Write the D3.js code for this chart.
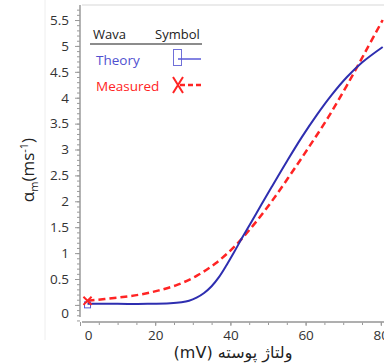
<!DOCTYPE html>
<html>
<head>
<meta charset="utf-8">
<script src="https://cdn.jsdelivr.net/npm/d3@7"></script>
<style>
  body { margin: 0; background: #fff; }
  text { font-family: "Open Sans", "DejaVu Sans", sans-serif; }
</style>
</head>
<body>
<svg id="chart" width="384" height="363"></svg>
<script>
// theory curve (blue)
const theoryX = [2, 10, 18, 24, 27, 29, 31, 33, 35, 37, 39, 41, 43, 47, 51, 55, 59, 63, 67, 71, 75, 80.5];
const theoryY = [0.02, 0.02, 0.02, 0.03, 0.05, 0.08, 0.14, 0.23, 0.36, 0.54, 0.77, 1.02, 1.28, 1.78, 2.28, 2.77, 3.24, 3.67, 4.06, 4.4, 4.68, 4.98];
// measured curve (red dashed)
const measuredX = [2, 10, 16, 21, 26, 31, 36, 41, 46, 51, 56, 61, 66, 71, 76, 80.5];
const measuredY = [0.08, 0.14, 0.2, 0.28, 0.39, 0.56, 0.8, 1.12, 1.53, 2.0, 2.52, 3.06, 3.62, 4.24, 4.9, 5.5];

const xTicks = [0, 20, 40, 60, 80];
const yTicks = [0, 0.5, 1, 1.5, 2, 2.5, 3, 3.5, 4, 4.5, 5, 5.5];
const legendNames = ["Theory", "Measured"];

const svg = d3.select("#chart");
const blue = "#2e2eb0", red = "#ff2424";

const x = d3.scaleLinear().domain([0, 80.85]).range([80, 384]);
const y = d3.scaleLinear().domain([-0.33, 5.79]).range([322, 5]);

// panel edges
svg.append("line").attr("x1", 45).attr("x2", 45).attr("y1", 0).attr("y2", 340)
  .attr("stroke", "#eee");
svg.append("line").attr("x1", 82).attr("x2", 384).attr("y1", 5).attr("y2", 5)
  .attr("stroke", "#e4e4e4").attr("stroke-width", 1.5);

// minor + major ticks
const yAxisG = svg.append("g").attr("transform", "translate(80,0)");
yAxisG.call(d3.axisLeft(y).tickValues(d3.range(-0.3, 5.8, 0.1)).tickSize(3).tickFormat(""));
const yMajor = svg.append("g").attr("transform", "translate(80,0)")
  .call(d3.axisLeft(y).tickValues(yTicks).tickSize(5).tickPadding(6).tickFormat(d3.format("")));
[yAxisG, yMajor].forEach(g => {
  g.select(".domain").attr("stroke", "#999").attr("d", "M0," + (y.range()[1]) + "V317");
  g.selectAll(".tick line").attr("stroke", "#999");
});
yMajor.selectAll(".tick text").attr("font-size", 13.5).attr("fill", "#333")
  .attr("dy", d => d === 0 ? "0.9em" : "0.32em");

const xAxisG = svg.append("g").attr("transform", "translate(0,322)");
xAxisG.call(d3.axisBottom(x).tickValues(d3.range(0, 81, 5)).tickSize(3).tickFormat(""));
const xMajor = svg.append("g").attr("transform", "translate(0,322)")
  .call(d3.axisBottom(x).tickValues(xTicks).tickSize(4).tickPadding(4));
[xAxisG, xMajor].forEach(g => {
  g.select(".domain").attr("stroke", "#aaa").attr("stroke-width", 1.5).attr("d", "M82,0H384");
  g.selectAll(".tick line").attr("stroke", "#999");
});
xMajor.selectAll(".tick text").attr("font-size", 13.5).attr("fill", "#333")
  .attr("dx", d => d === 0 ? 8 : 0);

// curves
const line = d3.line().x(d => x(d[0])).y(d => y(d[1])).curve(d3.curveCatmullRom.alpha(0.5));
const theory = d3.zip(theoryX, theoryY);
const measured = d3.zip(measuredX, measuredY);

svg.append("path").datum(measured).attr("d", line).attr("fill", "none")
  .attr("stroke", red).attr("stroke-width", 2.5).attr("stroke-dasharray", "7,4");
svg.append("path").datum(theory).attr("d", line).attr("fill", "none")
  .attr("stroke", blue).attr("stroke-width", 2);

// start markers
svg.append("rect").attr("x", x(theoryX[0]) - 3).attr("y", y(theoryY[0]) - 2)
  .attr("width", 6).attr("height", 6).attr("fill", "none").attr("stroke", "#5a5ad8");
svg.append("path").attr("d", d3.symbol(d3.symbolX, 45)())
  .attr("transform", `translate(${x(measuredX[0])},${y(measuredY[0])})`)
  .attr("stroke", red).attr("stroke-width", 2);

// legend
const lg = svg.append("g");
lg.append("text").attr("x", 93).attr("y", 39).attr("font-size", 13).attr("fill", "#222").text("Wava");
lg.append("text").attr("x", 155).attr("y", 39).attr("font-size", 13).attr("fill", "#222").text("Symbol");
lg.append("line").attr("x1", 90).attr("x2", 202).attr("y1", 44).attr("y2", 44)
  .attr("stroke", "#666").attr("stroke-width", 1.5);
lg.append("text").attr("x", 96).attr("y", 65).attr("font-size", 13.5).attr("fill", "#5050d0").text(legendNames[0]);
lg.append("text").attr("x", 96).attr("y", 91).attr("font-size", 13.5).attr("fill", red).text(legendNames[1]);
lg.append("rect").attr("x", 173.5).attr("y", 49.5).attr("width", 8).attr("height", 16)
  .attr("fill", "none").attr("stroke", "#7070d8");
lg.append("line").attr("x1", 178).attr("x2", 201).attr("y1", 59).attr("y2", 59)
  .attr("stroke", "#5a5ad8").attr("stroke-width", 1.5);
lg.append("path").attr("d", "M173,77L183,93M183,77L173,93").attr("stroke", red).attr("stroke-width", 2);
lg.append("line").attr("x1", 180).attr("x2", 201).attr("y1", 85).attr("y2", 85)
  .attr("stroke", red).attr("stroke-width", 2.5).attr("stroke-dasharray", "5,3");

// axis titles
const yl = svg.append("text").attr("transform", "translate(34,170) rotate(-90)")
  .attr("text-anchor", "middle").attr("font-size", 17).attr("fill", "#222");
yl.append("tspan").text("α");
yl.append("tspan").attr("font-size", 11).attr("dy", 4).text("m");
yl.append("tspan").attr("dy", -4).text("(ms");
yl.append("tspan").attr("font-size", 11).attr("dy", -6).text("-1");
yl.append("tspan").attr("dy", 6).text(")");

svg.append("text").attr("x", 233).attr("y", 358).attr("text-anchor", "middle")
  .attr("font-size", 16).attr("fill", "#222").attr("direction", "rtl")
  .style("font-family", "'DejaVu Sans', sans-serif").text("ولتاژ پوسته (mV)");
</script>
</body>
</html>
